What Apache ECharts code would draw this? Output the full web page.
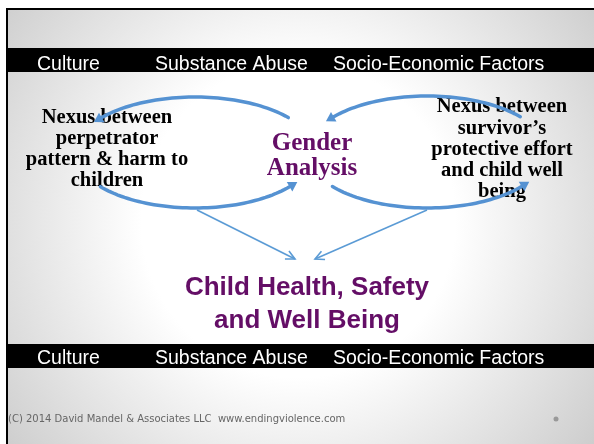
<!DOCTYPE html>
<html>
<head>
<meta charset="utf-8">
<title>Gender Analysis</title>
<script src="https://cdn.jsdelivr.net/npm/echarts@6/dist/echarts.min.js"></script>
<style>
  html, body { margin: 0; padding: 0; background: #fff; }
  #slide { width: 594px; height: 444px; }
</style>
</head>
<body>
<div id="slide"></div>
<script>
// Slide texts
const bandLabels = ['Culture', 'Substance Abuse', 'Socio-Economic Factors'];
const leftNexusLines = ['Nexus between', 'perpetrator', 'pattern & harm to', 'children'];
const rightNexusLines = ['Nexus between', 'survivor\u2019s', 'protective effort', 'and child well', 'being'];
const centerLines = ['Gender', 'Analysis'];
const outcomeLines = ['Child Health, Safety', 'and Well Being'];
const footerText = '(C) 2014 David Mandel & Associates LLC  www.endingviolence.com';

// Layout (pixels)
const bandLabelX = [37, 155, 333];
const bandTops = [48, 344];
const bandTextOffset = [17, 15];
const ellipses = [
    { cx: 195, cy: 152.5, rx: 120, ry: 55.5 },
    { cx: 427, cy: 152, rx: 120, ry: 56 }
];
const arcSpans = [[39, 141], [218, 322]];
const straightArrows = [
    { from: [197, 210], to: [295, 259] },
    { from: [427, 210], to: [315, 259] }
];

const purple = '#640e66';
const arcBlue = '#5592d2';
const lineBlue = '#5b9bd5';

document.addEventListener('DOMContentLoaded', function() {
    const chart = echarts.init(document.getElementById('slide'));
    const elements = [];

    // Slide background and frame
    elements.push({
        type: 'rect',
        z: 0,
        shape: { x: 7, y: 9, width: 620, height: 460 },
        style: {
            fill: new echarts.graphic.RadialGradient(0.47, 0.46, 0.85, [
                { offset: 0, color: '#ffffff' },
                { offset: 0.4, color: '#ffffff' },
                { offset: 1, color: '#c8c8c8' }
            ]),
            stroke: '#000',
            lineWidth: 2
        }
    });

    // Black bands with factor labels
    bandTops.forEach(function(top, b) {
        elements.push({
            type: 'rect',
            z: 1,
            shape: { x: 7, y: top, width: 600, height: 24 },
            style: { fill: '#000' }
        });
        bandLabels.forEach(function(label, i) {
            elements.push({
                type: 'text',
                z: 2,
                style: {
                    text: label,
                    x: bandLabelX[i],
                    y: top + bandTextOffset[b],
                    textAlign: 'left',
                    textVerticalAlign: 'middle',
                    font: '19.5px "Liberation Sans", Arial, sans-serif',
                    fill: '#fff'
                }
            });
        });
    });

    function addLines(lines, x, y0, step, font, color) {
        lines.forEach(function(line, i) {
            elements.push({
                type: 'text',
                z: 3,
                style: {
                    text: line,
                    x: x,
                    y: y0 + i * step,
                    textAlign: 'center',
                    textVerticalAlign: 'middle',
                    font: font,
                    fill: color
                }
            });
        });
    }

    const serifBold = 'bold 20.5px "Liberation Serif", "Times New Roman", serif';
    addLines(leftNexusLines, 107, 118, 21, serifBold, '#000');
    addLines(rightNexusLines, 502, 107, 21.3, serifBold, '#000');
    addLines(centerLines, 312, 144, 25, 'bold 25px "Liberation Serif", "Times New Roman", serif', purple);
    addLines(outcomeLines, 307, 288, 33, 'bold 26px "Liberation Sans", Arial, sans-serif', purple);

    // Circular arrows around each nexus
    function ellPoint(e, deg) {
        const t = deg * Math.PI / 180;
        return [e.cx + e.rx * Math.cos(t), e.cy - e.ry * Math.sin(t)];
    }
    function ellTangent(e, deg) {
        const t = deg * Math.PI / 180;
        const dx = -e.rx * Math.sin(t);
        const dy = -e.ry * Math.cos(t);
        const len = Math.hypot(dx, dy);
        return [dx / len, dy / len];
    }

    ellipses.forEach(function(e) {
        arcSpans.forEach(function(span) {
            const pts = [];
            for (let d = span[0]; d <= span[1]; d += 2) {
                pts.push(ellPoint(e, d));
            }
            elements.push({
                type: 'polyline',
                z: 5,
                shape: { points: pts },
                style: { stroke: arcBlue, lineWidth: 3.5, fill: null, lineCap: 'round' }
            });
            const p = ellPoint(e, span[1]);
            const u = ellTangent(e, span[1]);
            const n = [-u[1], u[0]];
            elements.push({
                type: 'polygon',
                z: 5,
                shape: {
                    points: [
                        [p[0] + u[0] * 9, p[1] + u[1] * 9],
                        [p[0] + n[0] * 5.5, p[1] + n[1] * 5.5],
                        [p[0] - n[0] * 5.5, p[1] - n[1] * 5.5]
                    ]
                },
                style: { fill: arcBlue }
            });
        });
    });

    // Straight arrows toward the outcome
    straightArrows.forEach(function(a) {
        elements.push({
            type: 'line',
            z: 4,
            shape: { x1: a.from[0], y1: a.from[1], x2: a.to[0], y2: a.to[1] },
            style: { stroke: lineBlue, lineWidth: 1.6 }
        });
        const dx = a.to[0] - a.from[0];
        const dy = a.to[1] - a.from[1];
        const len = Math.hypot(dx, dy);
        const ux = dx / len, uy = dy / len;
        const nx = -uy, ny = ux;
        elements.push({
            type: 'polyline',
            z: 4,
            shape: {
                points: [
                    [a.to[0] - ux * 9 + nx * 4.5, a.to[1] - uy * 9 + ny * 4.5],
                    [a.to[0], a.to[1]],
                    [a.to[0] - ux * 9 - nx * 4.5, a.to[1] - uy * 9 - ny * 4.5]
                ]
            },
            style: { stroke: lineBlue, lineWidth: 1.6, fill: null }
        });
    });

    // Footer
    elements.push({
        type: 'text',
        z: 3,
        style: {
            text: footerText,
            x: 8,
            y: 419,
            textAlign: 'left',
            textVerticalAlign: 'middle',
            font: '10px "DejaVu Sans", sans-serif',
            fill: '#666'
        }
    });
    elements.push({
        type: 'circle',
        z: 3,
        shape: { cx: 556, cy: 419, r: 2.5 },
        style: { fill: '#999' }
    });

    chart.setOption({
        backgroundColor: '#fff',
        animation: false,
        graphic: { elements: elements }
    });

    window.addEventListener('resize', function() {
        chart.resize();
    });
});
</script>
</body>
</html>
